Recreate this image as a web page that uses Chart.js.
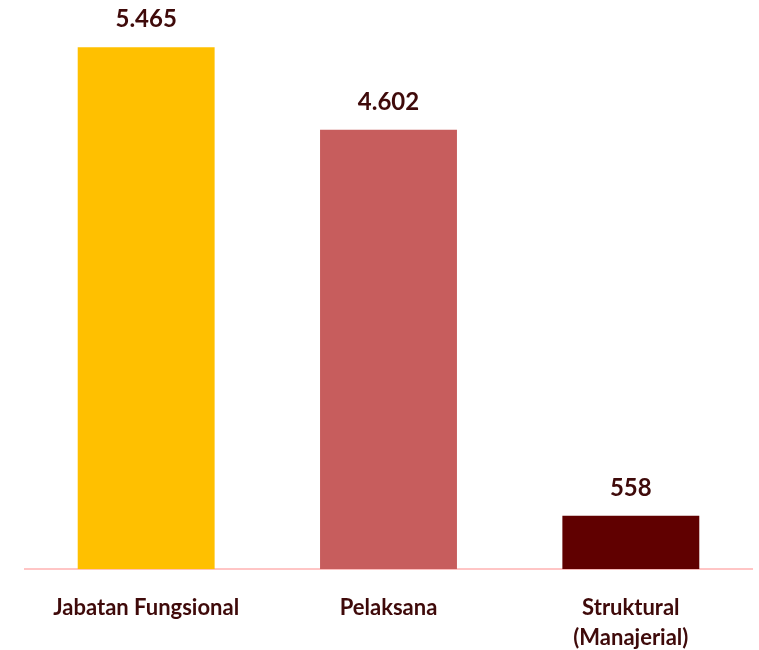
<!DOCTYPE html>
<html>
<head>
<meta charset="utf-8">
<script src="https://cdn.jsdelivr.net/npm/chart.js@4.4.0/dist/chart.umd.min.js"></script>
<style>
    html, body { margin: 0; padding: 0; background: #ffffff; overflow: hidden; }
    #wrap { width: 759px; height: 650px; }
</style>
</head>
<body>
<div id="wrap"><canvas id="jabatan-chart"></canvas></div>
<script>
const categories = ['Jabatan Fungsional', 'Pelaksana', ['Struktural', '(Manajerial)']];
const values = [5465, 4602, 558];
const valueLabels = ['5.465', '4.602', '558'];
const barColors = ['#FFC000', '#C75D5D', '#600000'];

const textColor = '#3F0A0A';

// draws the number over each bar
const valueLabelPlugin = {
    id: 'valueLabels',
    afterDatasetsDraw(chart) {
        const ctx = chart.ctx;
        const meta = chart.getDatasetMeta(0);
        ctx.save();
        ctx.font = 'bold 24px Lato';
        ctx.fillStyle = textColor;
        ctx.textAlign = 'center';
        ctx.textBaseline = 'alphabetic';
        meta.data.forEach((bar, i) => {
            ctx.fillText(valueLabels[i], bar.x, bar.y - 20);
        });
        ctx.restore();
    },
};

const graph = document.getElementById('jabatan-chart');
const chart = new Chart(graph, {
    type: 'bar',
    data: {
        labels: categories,
        datasets: [
            {
                data: values,
                backgroundColor: barColors,
                borderWidth: 0,
                barPercentage: 0.565,
                categoryPercentage: 1,
            },
        ],
    },
    options: {
        responsive: true,
        maintainAspectRatio: false,
        animation: false,
        layout: {
            padding: { left: 25, right: 7, top: 0, bottom: -19 },
        },
        plugins: {
            legend: { display: false },
            title: { display: false },
            tooltip: { enabled: false },
        },
        scales: {
            x: {
                grid: { display: false },
                border: { display: true, color: '#FFC5C5', width: 2 },
                ticks: {
                    color: textColor,
                    padding: 16,
                    maxRotation: 0,
                    autoSkip: false,
                    font: { family: 'Lato', weight: 'bold', size: 22, lineHeight: 1.36 },
                },
            },
            y: {
                display: false,
                min: 0,
                max: 5960,
            },
        },
    },
    plugins: [valueLabelPlugin],
});
</script>
</body>
</html>
